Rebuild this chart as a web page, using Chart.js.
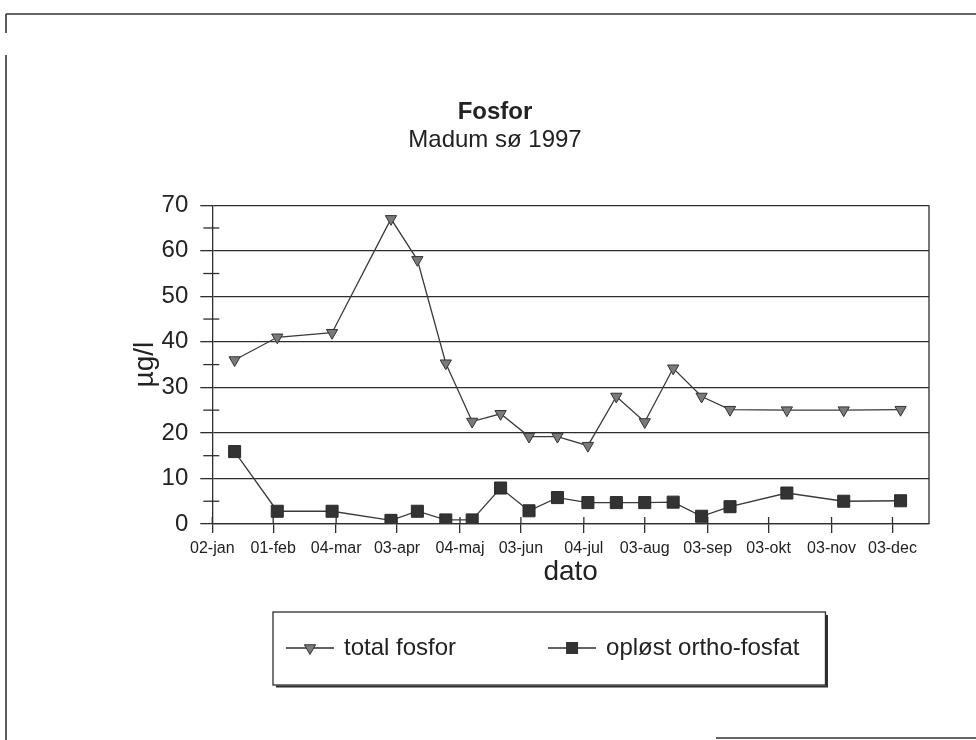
<!DOCTYPE html>
<html>
<head>
<meta charset="utf-8">
<script src="https://cdn.jsdelivr.net/npm/chart.js@4/dist/chart.umd.min.js"></script>
<style>
html,body{margin:0;padding:0;background:#ffffff;}
canvas{display:block;}
</style>
</head>
<body>
<canvas id="c" width="976" height="740"></canvas>
<script>
// ---- data (day of year 1997) ----
const sampleDays   = [13, 34, 61, 90, 103, 117, 130, 144, 158, 172, 187, 201, 215, 229, 243, 257, 285, 313, 341];
const totalFosfor  = [36, 41, 42, 67, 58, 35.3, 22.5, 24.2, 19.2, 19.2, 17.2, 28, 22.4, 34.2, 28, 25.1, 25, 25, 25.1];
const orthoFosfat  = [15.9, 2.8, 2.8, 0.8, 2.8, 0.9, 0.9, 7.9, 2.9, 5.8, 4.7, 4.7, 4.7, 4.8, 1.7, 3.8, 6.8, 5.0, 5.1];
const seriesNames  = ['total fosfor', 'opløst ortho-fosfat'];
const tickDays     = [2, 32, 63, 93, 124, 154, 185, 215, 246, 276, 307, 337];
const tickLabels   = ['02-jan', '01-feb', '04-mar', '03-apr', '04-maj', '03-jun', '04-jul', '03-aug', '03-sep', '03-okt', '03-nov', '03-dec'];
const titleText    = 'Fosfor';
const subtitleText = 'Madum sø 1997';
const xTitle       = 'dato';
const yTitle       = 'µg/l';

const INK = '#2e2e2e';
const TXT = '#222222';
const FONT = "'Liberation Sans', Arial, Helvetica, sans-serif";
Chart.defaults.font.family = FONT;
Chart.defaults.color = TXT;

// legend glyphs: short line with marker
function legendGlyph(kind) {
  const cv = document.createElement('canvas');
  cv.width = 48; cv.height = 18;
  const g = cv.getContext('2d');
  g.strokeStyle = INK; g.lineWidth = 1.3;
  g.beginPath(); g.moveTo(0, 9); g.lineTo(48, 9); g.stroke();
  if (kind === 'tri') {
    const r = 6.5, cx = 24, cy = 9;
    g.beginPath();
    g.moveTo(cx, cy + r);
    g.lineTo(cx - r * 0.866, cy - r * 0.5);
    g.lineTo(cx + r * 0.866, cy - r * 0.5);
    g.closePath();
    g.fillStyle = '#7a7a7a'; g.fill();
    g.lineWidth = 1; g.strokeStyle = '#333'; g.stroke();
  } else {
    g.fillStyle = '#333'; g.fillRect(18, 3, 12, 12);
  }
  return cv;
}
const glyphs = [legendGlyph('tri'), legendGlyph('sq')];

const decor = {
  id: 'decor',
  afterLayout(chart) {
    const lg = chart.legend;
    const pad = lg.options.labels.padding;
    lg.left = 288 - pad; lg.width = 760; lg.right = lg.left + lg.width;
    lg.top = 636 - pad; lg.height = pad + 70; lg.bottom = lg.top + lg.height;
  },
  beforeDatasetsDraw(chart) {
    const {ctx, chartArea: a, scales: {x, y}} = chart;
    ctx.save();
    ctx.strokeStyle = INK; ctx.lineWidth = 1.3;
    ctx.beginPath(); ctx.moveTo(a.right, a.top); ctx.lineTo(a.right, a.bottom); ctx.stroke();
    x.ticks.forEach(t => {
      const px = x.getPixelForValue(t.value);
      ctx.beginPath(); ctx.moveTo(px, a.bottom); ctx.lineTo(px, a.bottom - 7); ctx.stroke();
    });
    y.ticks.forEach(t => {
      if (t.value % 10 !== 0) {
        const py = y.getPixelForValue(t.value);
        ctx.beginPath(); ctx.moveTo(a.left - 9, py); ctx.lineTo(a.left + 7, py); ctx.stroke();
      }
    });
    ctx.restore();
  },
  afterDraw(chart) {
    const {ctx} = chart;
    const hb = chart.legend.legendHitBoxes;
    ctx.save();
    if (hb && hb.length) {
      const first = hb[0], last = hb[hb.length - 1];
      const bx = first.left - 15;
      const by = first.top + first.height / 2 - 36;
      const bw = (last.left + last.width + 26) - bx;
      const bh = 73;
      ctx.strokeStyle = INK; ctx.lineWidth = 1.3;
      ctx.strokeRect(bx, by, bw, bh);
      ctx.lineWidth = 2;
      ctx.beginPath(); ctx.moveTo(bx + 3, by + bh + 1.5); ctx.lineTo(bx + bw + 1.5, by + bh + 1.5); ctx.lineTo(bx + bw + 1.5, by + 3); ctx.stroke();
    }
    // page frame
    ctx.strokeStyle = '#333'; ctx.lineWidth = 1.6;
    ctx.beginPath(); ctx.moveTo(6, 14); ctx.lineTo(976, 14); ctx.stroke();
    ctx.beginPath(); ctx.moveTo(6, 14); ctx.lineTo(6, 33); ctx.stroke();
    ctx.beginPath(); ctx.moveTo(6, 55); ctx.lineTo(6, 740); ctx.stroke();
    ctx.beginPath(); ctx.moveTo(716, 738); ctx.lineTo(976, 738); ctx.stroke();
    ctx.restore();
  }
};

new Chart(document.getElementById('c'), {
  type: 'line',
  data: {
    datasets: [
      {
        label: seriesNames[0],
        data: sampleDays.map((d, i) => ({x: d, y: totalFosfor[i]})),
        borderColor: '#3a3a3a', borderWidth: 1.3, tension: 0,
        pointStyle: 'triangle', pointRotation: 180, pointRadius: 6.5,
        pointBackgroundColor: '#7a7a7a', pointBorderColor: '#333', pointBorderWidth: 1
      },
      {
        label: seriesNames[1],
        data: sampleDays.map((d, i) => ({x: d, y: orthoFosfat[i]})),
        borderColor: '#3a3a3a', borderWidth: 1.3, tension: 0,
        pointStyle: 'rect', pointRadius: 8.5,
        pointBackgroundColor: '#333', pointBorderColor: '#2a2a2a', pointBorderWidth: 1
      }
    ]
  },
  options: {
    responsive: false, animation: false, devicePixelRatio: 1,
    layout: {padding: {top: 0, left: 61, right: 47, bottom: 104}},
    plugins: {
      title: {display: true, text: titleText, color: TXT, font: {size: 24, weight: 'bold'}, padding: {top: 97.6, bottom: 0}},
      subtitle: {display: true, text: subtitleText, color: TXT, font: {size: 24}, padding: {top: 0, bottom: 50}},
      tooltip: {enabled: false},
      legend: {
        display: true, position: 'bottom', align: 'start', maxHeight: 50,
        labels: {
          color: TXT, font: {size: 24}, padding: 94,
          usePointStyle: true, pointStyleWidth: 44,
          generateLabels: (chart) => Chart.defaults.plugins.legend.labels.generateLabels(chart).map((l, i) => Object.assign(l, {pointStyle: glyphs[i], rotation: 0}))
        }
      }
    },
    scales: {
      x: {
        type: 'linear', min: 2, max: 355,
        afterBuildTicks: (s) => { s.ticks = tickDays.map(v => ({value: v})); },
        ticks: {autoSkip: false, maxRotation: 0, minRotation: 0, padding: 8, color: TXT, font: {size: 16, lineHeight: 1},
                callback: (v, i) => tickLabels[i]},
        grid: {drawOnChartArea: false, tickLength: 9, color: INK, lineWidth: 1.3},
        border: {display: true, color: INK, width: 1.3},
        title: {display: true, text: xTitle, color: TXT, font: {size: 28, lineHeight: 1}, padding: {top: -7, bottom: 0}}
      },
      y: {
        min: 0, max: 70,
        ticks: {stepSize: 5, autoSkip: false, padding: 12, color: TXT, font: {size: 24},
                callback: (v) => (v % 10 === 0 ? String(v) : '')},
        grid: {
          color: (c) => (c.tick && c.tick.value % 10 === 0 ? INK : 'rgba(0,0,0,0)'),
          tickColor: (c) => (c.tick && c.tick.value % 10 === 0 ? INK : 'rgba(0,0,0,0)'),
          tickLength: 12, lineWidth: 1.3
        },
        border: {display: true, color: INK, width: 1.3},
        title: {display: true, text: yTitle, color: TXT, font: {size: 28}, padding: {top: 67, bottom: -12}}
      }
    }
  },
  plugins: [decor]
});
</script>
</body>
</html>
